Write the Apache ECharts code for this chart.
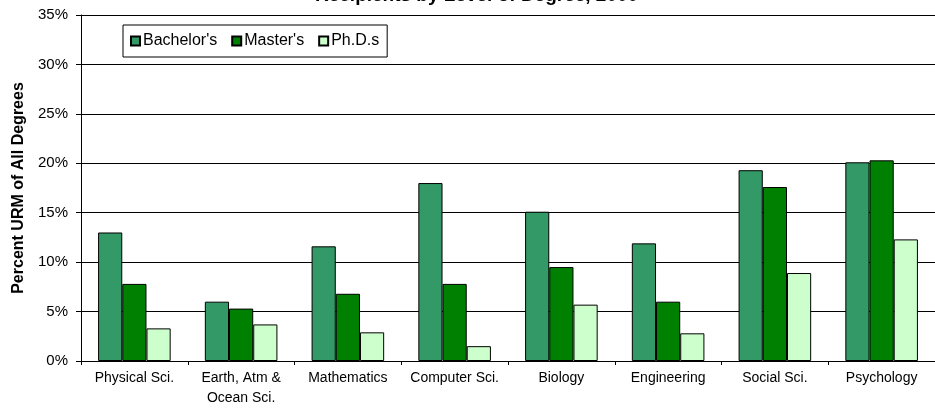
<!DOCTYPE html>
<html>
<head>
<meta charset="utf-8">
<script src="https://cdn.jsdelivr.net/npm/echarts@6/dist/echarts.min.js"></script>
<style>
	html, body { margin: 0; padding: 0; background: #fff; }
	#chart { width: 935px; height: 408px; }
</style>
</head>
<body>
<div id="chart"></div>
<script>
	// fields of study
	const fields = ['Physical Sci.', 'Earth, Atm &\nOcean Sci.', 'Mathematics', 'Computer Sci.', 'Biology', 'Engineering', 'Social Sci.', 'Psychology']
	// percent URM
	const bachelors = [13.0, 6.0, 11.6, 18.0, 15.1, 11.9, 19.3, 20.1]
	const masters = [7.8, 5.3, 6.8, 7.8, 9.5, 6.0, 17.6, 20.3]
	const phds = [3.3, 3.7, 2.9, 1.5, 5.7, 2.8, 8.9, 12.3]

	const chart = echarts.init(document.getElementById('chart'))
	const option = {
		animation: false,
		textStyle: { fontFamily: 'Arial, "Liberation Sans", sans-serif' },
		// title sits mostly above the visible area, as in the cropped original
		title: {
			text: 'Recipients by Level of Degree, 2000',
			left: 310,
			top: -19,
			textStyle: { fontSize: 19, fontWeight: 'bold', color: '#000' }
		},
		legend: {
			left: 123,
			top: 25,
			padding: [8, 8, 8, 7],
			itemGap: 14,
			itemWidth: 9,
			itemHeight: 9,
			icon: 'rect',
			borderColor: '#000',
			borderWidth: 1,
			backgroundColor: '#fff',
			textStyle: { fontSize: 16, color: '#000', padding: [0, 0, 0, -2] }
		},
		grid: {
			left: 81,
			right: -8,
			top: 15,
			bottom: 47
		},
		xAxis: {
			type: 'category',
			data: fields,
			axisLine: { lineStyle: { color: '#000' } },
			axisTick: { show: true, length: 4, lineStyle: { color: '#000' } },
			axisLabel: { interval: 0, fontSize: 14, lineHeight: 20, color: '#000', margin: 7 }
		},
		yAxis: {
			type: 'value',
			min: 0,
			max: 35,
			interval: 5,
			name: 'Percent URM of All Degrees',
			nameLocation: 'middle',
			nameGap: 53,
			nameTextStyle: { fontSize: 16, fontWeight: 'bold', color: '#000' },
			axisLine: { show: true, lineStyle: { color: '#000' } },
			axisTick: { show: true, length: 5, lineStyle: { color: '#000' } },
			axisLabel: { formatter: '{value}%', fontSize: 15, color: '#000', margin: 13 },
			splitLine: { lineStyle: { color: '#000', width: 1 } }
		},
		series: [
			{
				name: "Bachelor's",
				type: 'bar',
				data: bachelors,
				barGap: '0%',
				barCategoryGap: '32%',
				itemStyle: { color: '#339966', borderColor: '#000', borderWidth: 1 }
			},
			{
				name: "Master's",
				type: 'bar',
				data: masters,
				itemStyle: { color: '#008000', borderColor: '#000', borderWidth: 1 }
			},
			{
				name: 'Ph.D.s',
				type: 'bar',
				data: phds,
				itemStyle: { color: '#CCFFCC', borderColor: '#000', borderWidth: 1 }
			}
		]
	}
	chart.setOption(option)
	window.onresize = () => {
		chart.resize()
	}
</script>
</body>
</html>
